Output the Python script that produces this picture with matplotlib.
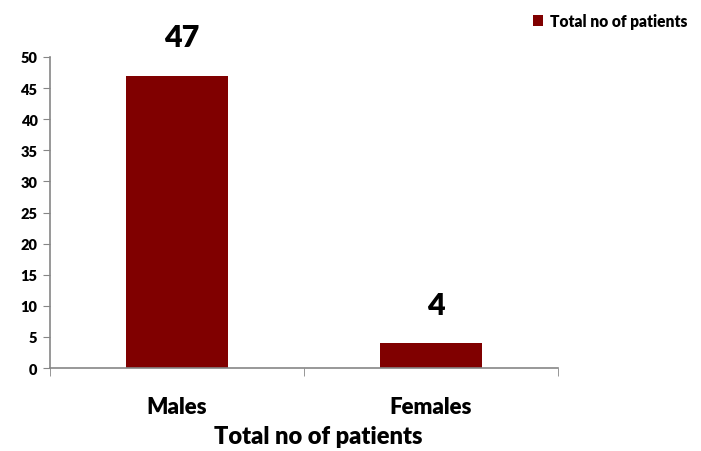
import numpy as np
import matplotlib.pyplot as plt
from matplotlib.patches import Patch

categories = ['Males', 'Females']
patients = [47, 4]
series_name = 'Total no of patients'
y_ticks = [0, 5, 10, 15, 20, 25, 30, 35, 40, 45, 50]

bar_color = '#800000'
axis_color = '#868686'

plt.rcParams['font.family'] = ['Lato', 'DejaVu Sans']

fig = plt.figure(figsize=(7.01, 4.52), dpi=100)
ax = fig.add_axes([0.0713, 0.1836, 0.7247, 0.6881])

x = np.arange(len(categories))
ax.bar(x, patients, width=0.4, color=bar_color, zorder=2)

for xi, v in zip(x, patients):
    ax.text(xi + 0.02, v + 3.9, str(v), ha='center', va='bottom',
            fontsize=22, fontweight='heavy', color='black')

ax.set_xlim(-0.5, 1.5)
ax.set_ylim(0, 50)
ax.set_yticks(y_ticks)
ax.tick_params(axis='y', direction='out', length=5, color=axis_color,
               labelsize=10.5, pad=4)
for lbl in ax.get_yticklabels():
    lbl.set_fontweight('heavy')

ax.set_xticks(x)
ax.set_xticklabels(categories, fontsize=16, fontweight='heavy')
ax.tick_params(axis='x', which='major', length=0, pad=20)
ax.set_xticks([-0.5, 0.5, 1.5], minor=True)
ax.tick_params(axis='x', which='minor', direction='out', length=6, color=axis_color)

ax.set_xlabel(series_name, fontsize=17, fontweight='heavy')
ax.xaxis.set_label_coords(0.528, -0.182)

for side in ['top', 'right']:
    ax.spines[side].set_visible(False)
for side in ['left', 'bottom']:
    ax.spines[side].set_color(axis_color)
    ax.spines[side].set_linewidth(1.2)

handle = Patch(facecolor=bar_color, label=series_name)
leg = fig.legend(handles=[handle], loc='upper right', bbox_to_anchor=(1.0, 1.0),
                 frameon=False, handlelength=0.7, handleheight=0.7,
                 handletextpad=0.4, prop={'weight': 'heavy', 'size': 11.2})

fig.savefig('out.png', dpi=100)
